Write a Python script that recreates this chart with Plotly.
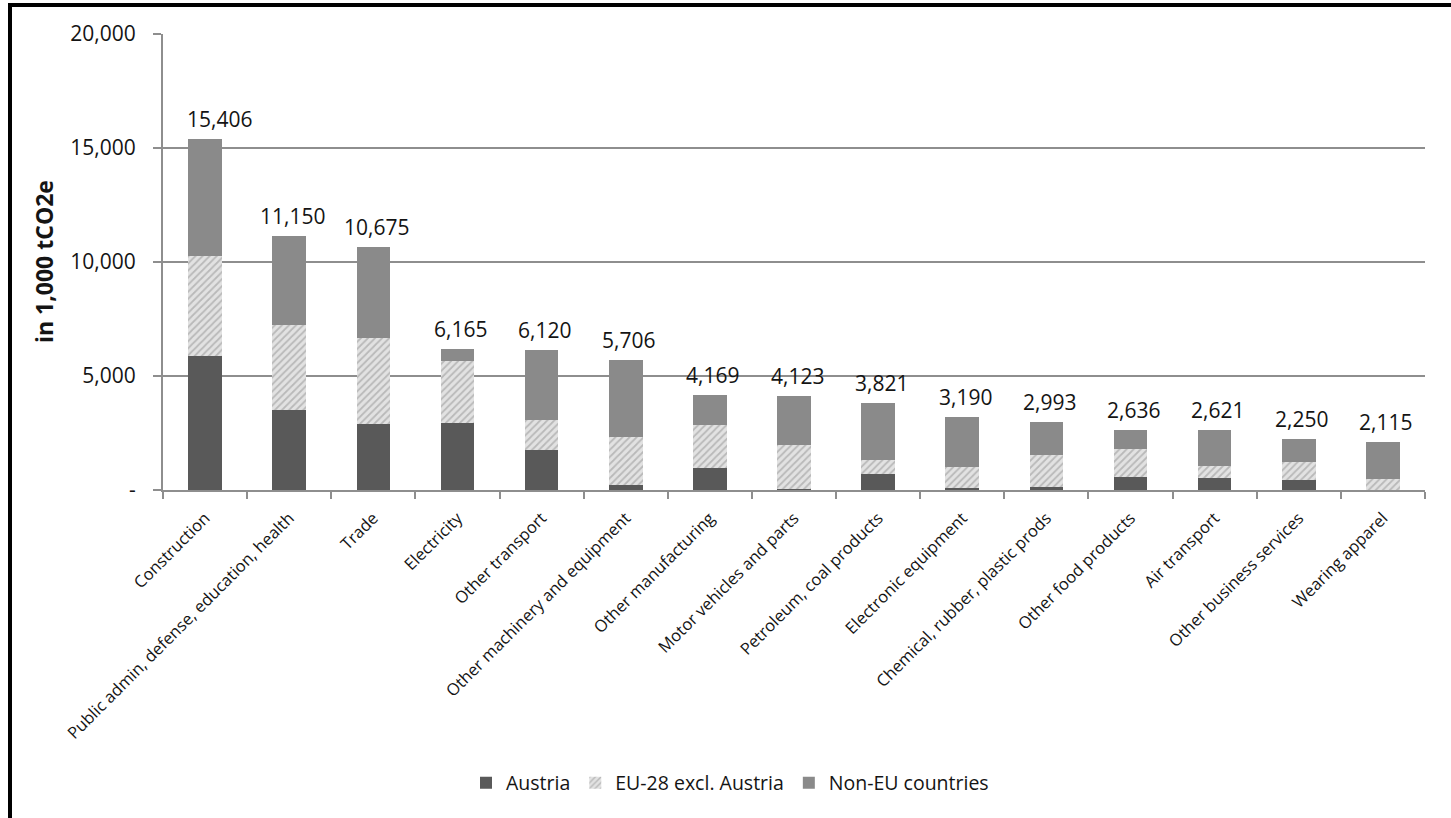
import plotly.graph_objects as go

categories = [
    "Construction", "Public admin, defense, education, health", "Trade", "Electricity",
    "Other transport", "Other machinery and equipment", "Other manufacturing",
    "Motor vehicles and parts", "Petroleum, coal products", "Electronic equipment",
    "Chemical, rubber, plastic prods", "Other food products", "Air transport",
    "Other business services", "Wearing apparel",
]
austria = [5890, 3510, 2890, 2950, 1750, 220, 960, 40, 690, 80, 150, 580, 510, 440, 20]
eu28 = [4370, 3730, 3780, 2710, 1320, 2120, 1890, 1940, 630, 940, 1380, 1220, 560, 800, 460]
non_eu = [5146, 3910, 4005, 505, 3050, 3366, 1319, 2143, 2501, 2170, 1463, 836, 1551, 1010, 1635]
totals = [15406, 11150, 10675, 6165, 6120, 5706, 4169, 4123, 3821, 3190, 2993, 2636, 2621, 2250, 2115]
y_ticks = [0, 5000, 10000, 15000, 20000]
y_tick_text = ["-", "5,000", "10,000", "15,000", "20,000"]

FONT = "Open Sans"
GRID = "#8e8e8e"
TXT = "#141414"

fig = go.Figure()
fig.add_trace(go.Bar(name="Austria", x=categories, y=austria,
                     marker=dict(color="#595959", line=dict(width=0))))
fig.add_trace(go.Bar(name="EU-28 excl. Austria", x=categories, y=eu28,
                     marker=dict(color="#e2e2e2", line=dict(width=0),
                                 pattern=dict(shape="/", fgcolor="#8f8f8f", bgcolor="#e2e2e2",
                                              size=5, solidity=0.35))))
fig.add_trace(go.Bar(name="Non-EU countries", x=categories, y=non_eu,
                     marker=dict(color="#8a8a8a", line=dict(width=0))))

L, R, T, B = 163, 26, 34, 328
W, H = 1451, 818
pw, ph = W - L - R, H - T - B

def px(xp):
    return (xp - L) / pw

def py(yp):
    return (H - B - yp) / ph

annotations = []
for i, (c, t) in enumerate(zip(categories, totals)):
    annotations.append(dict(x=c, y=t, xref="x", yref="y", text=f"{t:,}", showarrow=False,
                            yanchor="bottom", xanchor="center", yshift=4,
                            xshift=14 if i == 0 else 3,
                            font=dict(family=FONT, size=21, color=TXT)))
annotations.append(dict(text="<b>in 1,000 tCO2e</b>", textangle=-90, x=px(44), y=py(262),
                        xref="paper", yref="paper", xanchor="center", yanchor="middle",
                        showarrow=False, font=dict(family=FONT, size=23, color=TXT)))

fig.update_layout(
    width=W, height=H,
    margin=dict(l=L, r=R, t=T, b=B, autoexpand=False),
    paper_bgcolor="white", plot_bgcolor="white",
    barmode="stack", bargap=0.6,
    font=dict(family=FONT, size=17, color=TXT),
    showlegend=True,
    legend=dict(orientation="h", x=px(730), y=py(783), xanchor="center", yanchor="middle",
                font=dict(family=FONT, size=19.5, color=TXT), traceorder="normal"),
    hovermode=False,
    xaxis=dict(type="category", range=[-0.5, len(categories) - 0.5], tickangle=-45,
               tickson="boundaries", ticks="outside", ticklen=7, tickcolor=GRID, tickwidth=2,
               showline=True, linecolor=GRID, linewidth=2, showgrid=False,
               ticklabelstandoff=10,
               tickfont=dict(family=FONT, size=16.5, color=TXT)),
    yaxis=dict(range=[0, 20000], tickvals=y_ticks, ticktext=y_tick_text, ticks="outside",
               ticklen=8, tickcolor=GRID, tickwidth=2, showline=True, linecolor=GRID,
               linewidth=2, showgrid=True, gridcolor=GRID, gridwidth=2, zeroline=False,
               ticklabelstandoff=13,
               tickfont=dict(family=FONT, size=21, color=TXT)),
    annotations=annotations,
    shapes=[
        dict(type="line", xref="paper", yref="paper", x0=px(10), x1=px(10), y0=py(3), y1=py(830),
             line=dict(color="black", width=4)),
        dict(type="line", xref="paper", yref="paper", x0=px(8), x1=px(1460), y0=py(5), y1=py(5),
             line=dict(color="black", width=4)),
    ],
)

fig.write_html("out.html")
